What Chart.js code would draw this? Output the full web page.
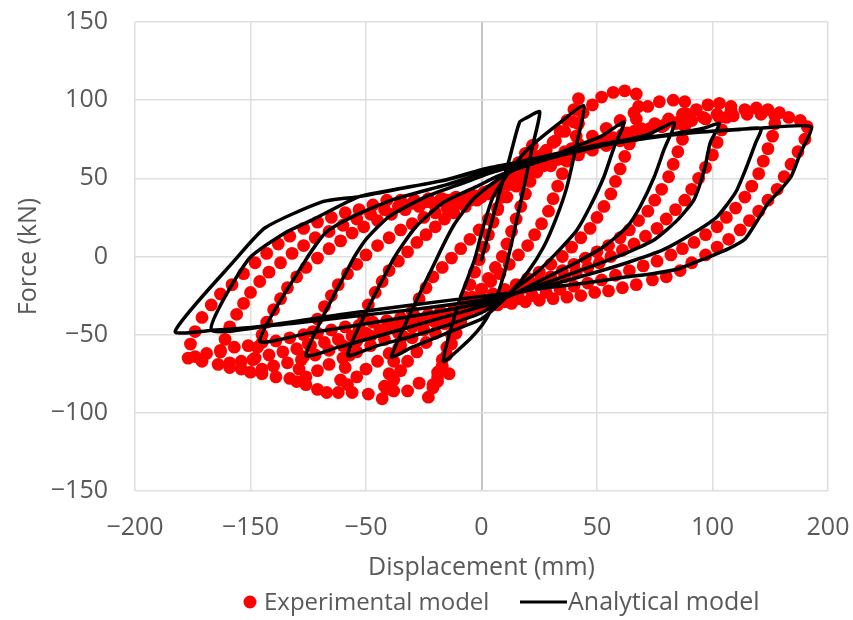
<!DOCTYPE html>
<html><head><meta charset="utf-8">
<script src="https://cdn.jsdelivr.net/npm/chart.js@4.4.1/dist/chart.umd.min.js"></script>
<style>html,body{margin:0;padding:0;background:#fff;}#wrap{width:853px;height:620px;}</style>
</head><body><div id="wrap"><canvas id="c" width="853" height="620"></canvas></div>
<script>
// tick labels as printed on the figure
const xTickLabels = ['−200','−150','−50','0','50','100','200'];
const yTickLabels = ['−150','−100','−50','0','50','100','150'];

const expLoop1 = [[-23,-90],[-21,-82],[-19,-74],[-17,-66],[-15,-58],[-13,-50],[-11,-42],[-9,-34],[-7,-26],[-5,-18],[-3,-10],[-1,-2],[1,6],[3,14],[5,22],[7,30],[9,38],[11,46],[13,53],[16,60],[19,66],[22,71],
[24,64],[23,56],[21,48],[19,40],[17,32],[15,24],[13,16],[11,8],[9,0],[6,-7],[3,-14],[0,-21],[-3,-28],[-6,-35],[-9,-42],[-11,-49],[-13,-56],[-15,-63],[-17,-70],[-19,-77],[-21,-84]];
const expLoop2 = [[-43,-91],[-42,-83],[-40,-75],[-38,-67],[-36,-59],[-34,-51],[-32,-43],[-30,-35],[-27,-27],[-24,-20],[-21,-13],[-17,-7],[-13,-1],[-9,5],[-5,11],[-1,17],[3,24],[7,31],[11,38],[15,45],[19,52],[23,59],[27,66],[31,73],[34,80],[37,87],[40,94],[42,101],
[43,93],[42,85],[41,77],[39,69],[37,61],[35,53],[33,45],[31,37],[29,29],[26,21],[23,14],[20,7],[16,1],[12,-5],[8,-11],[4,-16],[0,-21],[-4,-26],[-8,-31],[-12,-37],[-16,-43],[-20,-49],[-24,-55],[-28,-61],[-32,-67],[-35,-73],[-38,-79],[-41,-85]];
const expLoop3 = [[-62,-87],[-61,-79],[-59,-71],[-57,-63],[-55,-55],[-53,-47],[-51,-39],[-49,-31],[-46,-23],[-43,-16],[-40,-9],[-36,-3],[-32,3],[-28,9],[-24,14],[-20,19],[-16,24],[-12,28],[-7,32],[-2,36],[3,40],[8,45],[13,50],[18,56],[23,62],[28,68],[32,74],[36,80],[40,86],[44,92],[48,97],[52,102],[57,105],[62,106],[67,104],
[68,96],[67,88],[66,80],[64,72],[62,64],[60,56],[58,48],[56,40],[53,32],[50,25],[47,18],[43,12],[39,6],[35,0],[30,-5],[25,-10],[20,-14],[15,-18],[10,-21],[5,-24],[0,-27],[-5,-30],[-10,-34],[-15,-38],[-20,-42],[-25,-47],[-30,-52],[-35,-57],[-40,-62],[-45,-67],[-50,-72],[-54,-77],[-58,-82]];
const expLoop4 = [[-80,-80],[-79,-72],[-77,-64],[-75,-56],[-73,-48],[-71,-40],[-68,-32],[-65,-25],[-62,-18],[-58,-11],[-54,-5],[-50,1],[-45,7],[-40,12],[-35,17],[-30,21],[-25,25],[-20,28],[-15,31],[-10,34],[-5,36],[0,38],[6,42],[12,47],[18,52],[24,57],[30,62],[36,67],[42,72],[48,77],[54,82],[60,87],[66,92],[72,96],[77,99],[83,100],[88,99],
[89,91],[88,83],[87,75],[85,67],[83,59],[81,51],[78,43],[75,36],[72,29],[68,23],[64,17],[60,12],[55,7],[50,3],[45,-1],[40,-5],[35,-9],[30,-13],[25,-16],[20,-19],[15,-22],[10,-25],[5,-27],[0,-29],[-6,-31],[-12,-34],[-18,-37],[-24,-41],[-30,-45],[-36,-49],[-42,-53],[-48,-57],[-54,-61],[-60,-65],[-66,-69],[-71,-73],[-76,-77]];
const expLoop5 = [[-100,-74],[-99,-66],[-97,-58],[-95,-50],[-93,-42],[-90,-34],[-87,-27],[-84,-20],[-80,-13],[-76,-7],[-71,-1],[-66,5],[-61,10],[-56,15],[-51,19],[-45,23],[-39,27],[-33,30],[-27,32],[-21,34],[-15,36],[-9,37],[-3,39],[3,42],[9,46],[15,50],[21,54],[27,58],[33,62],[39,66],[45,70],[51,73],[57,76],[63,79],[69,82],[75,85],[81,88],[87,91],[93,94],[98,97],[103,98],[108,96],
[106,89],[104,81],[102,73],[100,65],[97,57],[94,50],[91,43],[88,36],[84,30],[80,24],[76,18],[71,13],[66,8],[61,4],[56,0],[51,-4],[46,-7],[41,-10],[36,-13],[31,-16],[26,-18],[21,-21],[16,-23],[11,-25],[6,-27],[0,-30],[-6,-32],[-12,-34],[-18,-36],[-24,-39],[-30,-42],[-36,-45],[-42,-48],[-48,-51],[-54,-54],[-60,-57],[-66,-60],[-72,-63],[-78,-66],[-84,-68],[-90,-70],[-95,-72]];
const expLoop6 = [[-114,-69],[-113,-61],[-111,-53],[-109,-45],[-106,-37],[-103,-30],[-100,-23],[-96,-16],[-92,-10],[-87,-4],[-82,2],[-77,7],[-72,12],[-66,16],[-60,20],[-54,24],[-48,27],[-42,30],[-36,32],[-30,34],[-24,35],[-18,36],[-12,37],[-6,38],[0,39],[6,42],[12,46],[18,50],[24,54],[30,58],[36,62],[42,65],[48,68],[54,71],[60,74],[66,77],[72,80],[78,83],[84,85],[90,87],[96,89],[102,91],[108,93],[114,94],[119,95],[124,94],[129,92],
[127,85],[126,77],[124,69],[122,61],[120,53],[117,45],[114,38],[110,31],[106,25],[102,19],[97,14],[92,9],[87,5],[82,1],[76,-3],[70,-6],[64,-9],[58,-12],[52,-15],[46,-17],[40,-19],[34,-21],[28,-23],[22,-25],[16,-27],[10,-29],[4,-31],[-2,-33],[-8,-35],[-14,-37],[-20,-39],[-26,-41],[-32,-43],[-38,-45],[-44,-47],[-50,-49],[-56,-51],[-62,-53],[-68,-55],[-74,-57],[-80,-59],[-86,-61],[-92,-63],[-98,-65],[-104,-67],[-109,-68]];
const expLoop7 = [[-127,-65],[-126,-56],[-124,-48],[-121,-39],[-117,-31],[-113,-24],[-108,-18],[-103,-11],[-98,-4],[-93,2],[-88,8],[-83,13],[-77,18],[-71,22],[-65,25],[-59,28],[-53,30],[-47,33],[-41,36],[-35,36],[-29,36],[-23,37],[-17,37],[-11,38],[-5,38],[1,41],[7,45],[13,50],[19,54],[25,58],[31,62],[37,66],[43,69],[49,72],[55,75],[61,78],[67,80],[73,82],[79,84],[85,86],[91,87],[97,88],[103,89],[109,90],[115,91],[121,91],[127,90],[133,89],[138,87],[141,83],
[140,75],[137,67],[134,59],[131,51],[128,43],[124,36],[120,29],[116,23],[112,17],[107,11],[102,6],[97,1],[91,-4],[86,-9],[80,-13],[74,-15],[67,-18],[61,-20],[55,-22],[49,-23],[43,-25],[37,-26],[31,-27],[25,-28],[19,-29],[13,-30],[7,-31],[1,-32],[-5,-33],[-11,-34],[-17,-36],[-23,-37],[-29,-38],[-35,-39],[-41,-41],[-47,-42],[-53,-44],[-59,-45],[-65,-47],[-71,-49],[-77,-50],[-83,-52],[-89,-54],[-95,-55],[-101,-57],[-107,-58],[-113,-60],[-119,-62],[-124,-64]];
// lower envelope of the experimental negative peaks
const expBottom = [[-121,-67],[-109,-71],[-104,-72],[-95,-75],[-89,-77],[-83,-78],[-76,-82],[-71,-85],[-67,-87],[-56,-87],[-49,-88],[-38,-86],[-32,-86],[-27,-81],[-19,-80],[-14,-75]];

// Analytical model (black line), cycle by cycle [displacement, force]
const anaPath1 = [[0,-2],[4,20],[8,42],[12,62],[16.5,86],[19.6,88.8],[25.2,92.6],[22,70],[18,42],[14,15],[10,-10],[6,-28],[2,-40],[-2,-48],[-8,-57],[-16.5,-67]];
const anaPath2 = [[-10,-30],[-3,-2],[0,15],[2,25],[5,38],[11,52],[19.6,68],[32.6,84],[44.3,96.4],[41.3,72.8],[37,44.7],[32.6,25.5],[27,6.4],[20,-10],[12,-24],[5,-34],[0,-40],[-10,-46],[-20,-52],[-30,-58],[-39,-64]];
const anaPath3 = [[-19.6,-2],[-12,20],[-4,36],[5,47],[15,56],[28,63],[40,70],[52,77],[61.7,86],[57.4,70],[53,51],[47,32],[41.3,17],[32.6,2.5],[24,-10],[15,-20],[7,-29],[0,-36],[-15,-44],[-30,-51],[-45,-57],[-58,-63]];
const anaPath4 = [[-38.3,-2],[-28.3,19.2],[-16.5,34.5],[-2.2,44.7],[8,52],[30,63],[55,72],[72,78],[83.5,85.6],[79,68.3],[74.8,51],[68.7,32],[63,19],[53,6.4],[42,-3],[30,-12],[18,-21],[8,-28],[0,-32],[-24,-42],[-45,-51],[-62,-58],[-76,-63]];
const anaPath5 = [[-55.7,-2],[-50,10.9],[-40,25.5],[-24,38.3],[-8,47],[5,54],[30,64],[60,73],[85,79],[96,82],[103,85],[99,72.8],[96.5,55.6],[92,36.4],[85,23.6],[75,10.9],[63,2.5],[50,-5],[35,-13],[20,-21],[8,-27],[0,-30],[-25,-37],[-50,-43],[-75,-49],[-96,-54]];
const anaPath6 = [[-76,-2],[-67.4,15.3],[-55.7,25.5],[-38.3,36.4],[-15,46],[0,53],[30,64],[60,73],[90,79],[110,81],[121,82],[118.7,72.8],[114.3,55.6],[110,41],[102,25.5],[92,15.3],[79,4.5],[63,-4],[45,-12],[25,-20],[10,-25],[0,-28],[-30,-34],[-60,-39],[-90,-44],[-117,-47]];
const anaPath7 = [[-101,-2],[-84.8,15.3],[-73,23.6],[-53,38.3],[-37,43],[-15,49],[0,55],[30,65],[60,74],[90,79],[120,82],[142.6,83],[138,66],[134,51],[129,42],[124,34],[119,22],[114,11],[107,5],[99,0],[92,-4],[85,-8],[74,-11],[63,-13],[45,-17],[28,-20],[14,-23],[0,-25.5],[-30,-31],[-60,-37],[-96,-44.7],[-115,-47],[-132.6,-47.9]];
const anaPath8 = [[-106.5,-1.9],[-93.5,18.5],[-68.7,35.1],[-53,38.3],[-37,42.8],[-15.2,49.2],[0,55.6],[15,60]];

const toXY = a => a.map(p => ({x: p[0], y: p[1]}));
const experimental = [].concat(expLoop1, expLoop2, expLoop3, expLoop4, expLoop5, expLoop6, expLoop7, expBottom);
const analytical = [].concat(anaPath1, anaPath2, anaPath3, anaPath4, anaPath5, anaPath6, anaPath7, anaPath8);

const FONT = '"Open Sans", "DejaVu Sans", sans-serif';
const TXT = '#595959';

const legendPlugin = {
  id: 'customLegend',
  afterDraw(chart) {
    const ctx = chart.ctx;
    const ds = chart.data.datasets;
    ctx.save();
    ctx.font = '24px ' + FONT;
    ctx.textBaseline = 'alphabetic';
    ctx.fillStyle = '#ff0000';
    ctx.beginPath(); ctx.arc(250, 602, 6.5, 0, Math.PI * 2); ctx.fill();
    ctx.fillStyle = TXT;
    ctx.fillText(ds[1].label, 264, 610);
    ctx.strokeStyle = '#000'; ctx.lineWidth = 3;
    ctx.beginPath(); ctx.moveTo(520, 602); ctx.lineTo(567, 602); ctx.stroke();
    ctx.font = '25px ' + FONT;
    ctx.fillText(ds[0].label, 568, 610);
    ctx.restore();
  }
};

new Chart(document.getElementById('c'), {
  type: 'scatter',
  data: {
    datasets: [
      { label: 'Analytical model', data: toXY(analytical), showLine: true, borderColor: '#000', borderWidth: 3.5,
        pointRadius: 0, tension: 0.2, order: 0, borderJoinStyle: 'round', borderCapStyle: 'round' },
      { label: 'Experimental model', data: toXY(experimental), showLine: false, pointRadius: 6.4,
        pointBackgroundColor: '#ff0000', pointBorderWidth: 0, pointBorderColor: '#ff0000', order: 1 }
    ]
  },
  options: {
    responsive: false, animation: false, devicePixelRatio: 1,
    layout: { padding: { left: 0, right: 25, top: 22, bottom: 0 } },
    plugins: { legend: { display: false }, tooltip: { enabled: false } },
    scales: {
      x: {
        type: 'linear', min: -150, max: 150,
        ticks: { stepSize: 50, color: TXT, font: { family: FONT, size: 25 }, padding: 22,
                 callback: (v, i) => xTickLabels[i] },
        grid: { color: c => c.tick && c.tick.value === 0 ? '#c4c4c4' : '#dedede',
                lineWidth: c => c.tick && c.tick.value === 0 ? 2 : 1.5, drawTicks: false },
        border: { display: false },
        title: { display: true, text: 'Displacement (mm)', color: TXT, font: { family: FONT, size: 25 },
                 padding: { top: 0, bottom: 37 } },
        afterFit: s => { s.height = 129; s.paddingLeft = 0; s.paddingRight = 0; }
      },
      y: {
        type: 'linear', min: -150, max: 150,
        ticks: { stepSize: 50, color: TXT, font: { family: FONT, size: 25 }, padding: 27,
                 callback: (v, i) => yTickLabels[i] },
        grid: { color: '#dedede', lineWidth: 1.5, drawTicks: false },
        border: { display: false },
        title: { display: true, text: 'Force (kN)', color: TXT, font: { family: FONT, size: 25 },
                 padding: { top: 14, bottom: 0 } },
        afterFit: s => { s.width = 135; s.paddingTop = 0; s.paddingBottom = 0; }
      }
    }
  },
  plugins: [legendPlugin]
});
</script></body></html>
